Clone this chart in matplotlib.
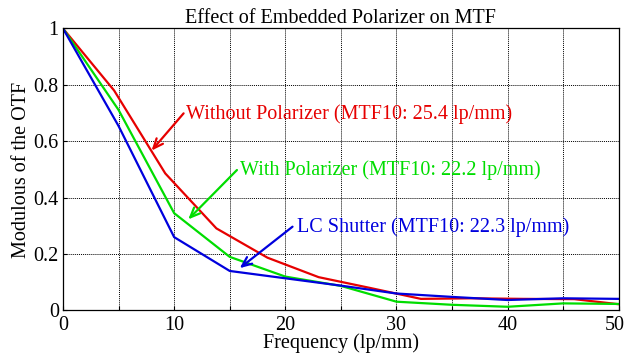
import matplotlib
matplotlib.use("Agg")
import matplotlib.pyplot as plt
import matplotlib.transforms as mtransforms
import numpy as np

# Spatial frequency samples (lp/mm) and MTF values
freq_without = [0, 4.6, 9.2, 13.8, 18.4, 23.0, 27.6, 32.2, 36.8, 41.4, 46.0, 50.0]
mtf_without = [1.0, 0.78, 0.486, 0.291, 0.187, 0.118, 0.08, 0.041, 0.043, 0.041, 0.04, 0.022]

freq_with = [0, 5, 10, 15, 20, 25, 30, 35, 40, 45, 50]
mtf_with = [1.0, 0.711, 0.345, 0.19, 0.12, 0.087, 0.031, 0.02, 0.013, 0.025, 0.023]

freq_lc = [0, 5, 10, 15, 20, 25, 30, 35, 40, 45, 50]
mtf_lc = [1.0, 0.654, 0.26, 0.14, 0.114, 0.088, 0.06, 0.048, 0.037, 0.043, 0.041]

labels = [
    "Without Polarizer (MTF10: 25.4 lp/mm)",
    "With Polarizer (MTF10: 22.2 lp/mm)",
    "LC Shutter (MTF10: 22.3 lp/mm)",
]
colors = ["#e60000", "#00dd00", "#0000dd"]

plt.rcParams["font.family"] = ["Liberation Serif", "DejaVu Serif"]
FS = 14.5

fig = plt.figure(figsize=(6.25, 3.56), dpi=100)
ax = fig.add_axes([0.1008, 0.128, 0.8892, 0.792])

series = [(freq_without, mtf_without), (freq_with, mtf_with), (freq_lc, mtf_lc)]
for (f, m), c in zip(series, colors):
    ax.plot(f, m, color=c, lw=1.6, solid_joinstyle="miter")

ax.set_xlim(0, 50)
ax.set_ylim(0, 1)
ax.set_xticks(np.arange(0, 51, 5))
ax.set_xticklabels([str(v) if v % 10 == 0 else "" for v in range(0, 51, 5)])
ax.set_yticks([0, 0.2, 0.4, 0.6, 0.8, 1.0])
ax.set_yticklabels(["0", "0.2", "0.4", "0.6", "0.8", "1"])
ax.tick_params(direction="in", length=3, labelsize=FS, width=0.8)
ax.tick_params(axis="x", pad=4)
ax.tick_params(axis="y", pad=3)
ax.grid(True, color="black", linestyle=(0, (1, 1)), linewidth=0.7)
for s in ax.spines.values():
    s.set_linewidth(0.9)

# keep the last x tick label inside the figure
last = ax.get_xticklabels()[-1]
last.set_transform(last.get_transform() +
                   mtransforms.ScaledTranslation(-4 / 100, 0, fig.dpi_scale_trans))

ax.set_title("Effect of Embedded Polarizer on MTF", fontsize=FS, pad=3)
ax.set_xlabel("Frequency (lp/mm)", fontsize=FS, labelpad=-1)
ax.set_ylabel("Modulous of the OTF", fontsize=FS, labelpad=2)

# Callouts: text position, arrow tail, arrow head
callouts = [((11.05, 0.697), (10.85, 0.699), (7.97, 0.567)),
            ((15.95, 0.496), (15.65, 0.498), (11.27, 0.323)),
            ((21.05, 0.297), (20.65, 0.297), (15.9, 0.15))]
for text, (tpos, tail, head), c in zip(labels, callouts, colors):
    ax.text(tpos[0], tpos[1], text, color=c, fontsize=FS, ha="left", va="center")
    ax.annotate("", xy=head, xytext=tail,
                arrowprops=dict(arrowstyle="->,head_length=0.7,head_width=0.3",
                                color=c, lw=1.6, shrinkA=0, shrinkB=0))

fig.savefig("out.png", dpi=100)
